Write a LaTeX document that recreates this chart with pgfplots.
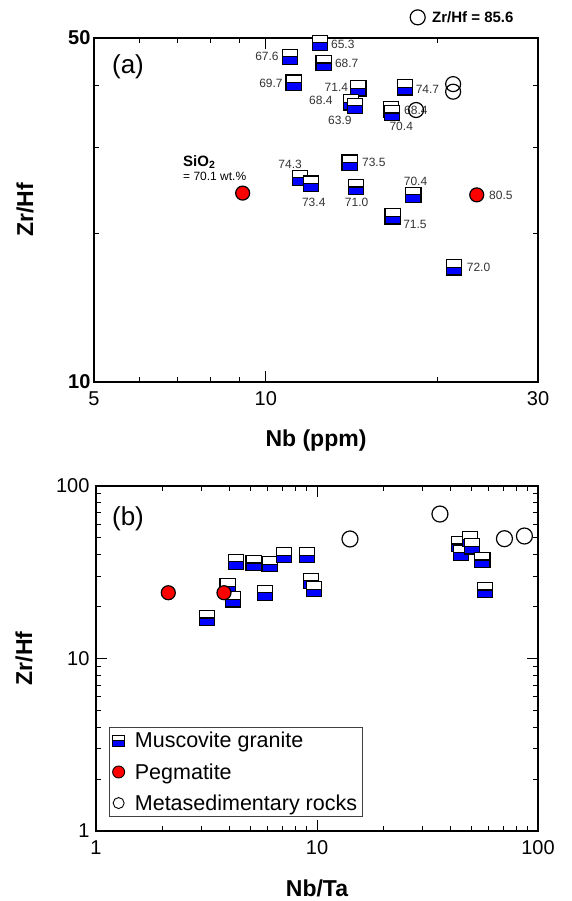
\documentclass[border=0pt]{standalone}
\usepackage{fontspec}
\setmainfont{Liberation Sans}
\usepackage{pgfplots}
\pgfplotsset{compat=1.18}
\definecolor{mblue}{RGB}{0,0,255}
\definecolor{mred}{RGB}{255,0,0}
\pgfdeclareplotmark{halfsq}{%
  \pgfpathrectangle{\pgfqpoint{-\pgfplotmarksize}{-\pgfplotmarksize}}{\pgfqpoint{2\pgfplotmarksize}{2\pgfplotmarksize}}%
  \pgfsetfillcolor{white}\pgfusepath{fill}%
  \pgfpathrectangle{\pgfqpoint{-\pgfplotmarksize}{-\pgfplotmarksize}}{\pgfqpoint{2\pgfplotmarksize}{\pgfplotmarksize}}%
  \pgfsetfillcolor{mblue}\pgfusepath{fill,stroke}%
  \pgfpathrectangle{\pgfqpoint{-\pgfplotmarksize}{-\pgfplotmarksize}}{\pgfqpoint{2\pgfplotmarksize}{2\pgfplotmarksize}}%
  \pgfusepath{stroke}%
}
\pgfplotsset{
  myaxis/.style={
    scale only axis, clip=false,
    axis line style={line width=1.2pt},
    tick style={black, line width=1pt},
    tick align=inside,
    major tick length=11pt, minor tick length=5pt,
    /pgf/number format/assume math mode=true,
    ticklabel style={font=\fontsize{20}{24}\selectfont},
    xticklabel style={yshift=-6pt},
  },
  granite/.style={only marks, mark=halfsq, mark size=7.6pt, mark options={line width=1.2pt, draw=black}},
  pegm/.style={only marks, mark=*, mark size=7pt, mark options={line width=1.2pt, draw=black, fill=mred}},
  meta/.style={only marks, mark=o, mark size=7.5pt, mark options={line width=1.2pt, draw=black, fill=none}},
}
\tikzset{lbl/.style={font=\fontsize{12}{14}\selectfont, text=black!80, inner sep=0pt}}
\begin{document}
\begin{tikzpicture}
\useasboundingbox (0pt,0pt) rectangle (571pt,-901pt);
% ---------------- panel (a)
\begin{axis}[myaxis,
  at={(94pt,-382pt)}, anchor=south west,
  width=444pt, height=344pt,
  xmode=log, ymode=log, xmin=5, xmax=30, ymin=10, ymax=50,
  xtick={5,10,30}, xticklabels={5,10,30},
  minor xtick={6,7,8,9,20},
  ytick={10,50}, yticklabels={\textbf{10},\textbf{50}},
  minor ytick={20,30,40},
  xlabel={Nb (ppm)}, ylabel={Zr/Hf},
  every axis x label/.style={at={(axis description cs:0.5,-0.1715)}, anchor=center, font=\fontsize{23}{27}\selectfont\bfseries},
  every axis y label/.style={at={(axis description cs:-0.1554,0.5)}, anchor=center, rotate=90, font=\fontsize{23}{27}\selectfont\bfseries},
  legend style={at={(0.7117,1.060)}, anchor=west, draw=none, fill=none, font=\fontsize{15}{18}\selectfont\bfseries, inner sep=0pt,
    /tikz/every odd column/.append style={column sep=5pt}},
]
\addlegendimage{meta}
\addlegendentry{Zr/Hf = 85.6}
\addplot[granite] coordinates {
(12.46,48.9) (11.04,45.8) (12.63,44.5) (11.19,40.6) (14.53,39.5) (14.11,37.0) (14.32,36.4)
(17.56,39.7) (16.58,35.8) (16.64,35.2) (14.03,27.9) (11.48,26.0) (12.0,25.3) (14.38,24.9)
(18.14,24.0) (16.69,21.7) (21.38,17.1)};
\addplot[pegm] coordinates {(9.11,24.2) (23.43,24.0)};
\addplot[meta] coordinates {(21.3,40.3) (21.3,38.9) (18.34,35.7)};
\node[lbl, xshift=22.5pt, yshift=-1.6pt] at (axis cs:12.46,48.9) {65.3};
\node[lbl, xshift=-23.3pt, yshift=0.5pt] at (axis cs:11.04,45.8) {67.6};
\node[lbl, xshift=23.1pt] at (axis cs:12.63,44.5) {68.7};
\node[lbl, xshift=-22.7pt, yshift=-0.5pt] at (axis cs:11.19,40.6) {69.7};
\node[lbl, xshift=-22pt, yshift=0.8pt] at (axis cs:14.53,39.5) {71.4};
\node[lbl, xshift=-30.2pt, yshift=1.8pt] at (axis cs:14.11,37.0) {68.4};
\node[lbl, xshift=-14.9pt, yshift=-14pt] at (axis cs:14.32,36.4) {63.9};
\node[lbl, xshift=22.2pt, yshift=-1.9pt] at (axis cs:17.56,39.7) {74.7};
\node[lbl, xshift=24.8pt, yshift=-0.7pt] at (axis cs:16.58,35.8) {68.4};
\node[lbl, xshift=9.3pt, yshift=-12.9pt] at (axis cs:16.64,35.2) {70.4};
\node[lbl, xshift=24.1pt] at (axis cs:14.03,27.9) {73.5};
\node[lbl, xshift=-9.8pt, yshift=13.2pt] at (axis cs:11.48,26.0) {74.3};
\node[lbl, xshift=2.8pt, yshift=-18.4pt] at (axis cs:12.0,25.3) {73.4};
\node[lbl, xshift=0.8pt, yshift=-15.4pt] at (axis cs:14.38,24.9) {71.0};
\node[lbl, xshift=2.2pt, yshift=13.3pt] at (axis cs:18.14,24.0) {70.4};
\node[lbl, xshift=22.3pt, yshift=-8.2pt] at (axis cs:16.69,21.7) {71.5};
\node[lbl, xshift=24.5pt] at (axis cs:21.38,17.1) {72.0};
\node[lbl, xshift=24.1pt] at (axis cs:23.43,24.0) {80.5};
\node[anchor=west, inner sep=0pt, font=\fontsize{15}{18}\selectfont\bfseries, xshift=-59.7pt, yshift=31.3pt] at (axis cs:9.11,24.2) {SiO\textsubscript{2}};
\node[anchor=west, inner sep=0pt, font=\fontsize{12}{14}\selectfont, xshift=-59.7pt, yshift=16.3pt] at (axis cs:9.11,24.2) {= 70.1 wt.\%};
\node[font=\fontsize{26}{30}\selectfont] at (axis description cs:0.0766,0.9157) {(a)};
\end{axis}
% ---------------- panel (b)
\begin{axis}[myaxis,
  at={(96pt,-831pt)}, anchor=south west,
  width=442pt, height=345pt,
  xmode=log, ymode=log, xmin=1, xmax=100, ymin=1, ymax=100,
  xtick={1,10,100}, xticklabels={1,10,100},
  minor xtick={2,3,4,5,6,7,8,9,20,30,40,50,60,70,80,90},
  ytick={1,10,100}, yticklabels={1,10,100},
  minor ytick={2,3,4,5,6,7,8,9,20,30,40,50,60,70,80,90},
  yticklabel style={xshift=-3pt},
  xlabel={Nb/Ta}, ylabel={Zr/Hf},
  every axis x label/.style={at={(axis description cs:0.5,-0.166)}, anchor=center, font=\fontsize{23}{27}\selectfont\bfseries},
  every axis y label/.style={at={(axis description cs:-0.1629,0.5)}, anchor=center, rotate=90, font=\fontsize{23}{27}\selectfont\bfseries},
  legend style={at={(0.0294,0.0406)}, anchor=south west, draw=black!75, line width=0.8pt,
    font=\fontsize{21.5}{25}\selectfont, row sep=10pt, inner xsep=3pt, inner ysep=3pt,
    /tikz/every odd column/.append style={column sep=8pt}},
  legend cell align=left,
]
\addplot[granite, legend image post style={mark size=5.8pt, mark options={line width=0.9pt, draw=black}}] coordinates {
(3.178,17.17) (3.944,26.2) (4.169,22.04) (4.313,36.4) (5.171,35.8) (6.109,35.2) (5.817,24.06)
(7.091,39.7) (9.01,39.7) (9.395,28.25) (9.662,25.2) (43.9,46.1) (44.8,41.1) (49.2,49.1)
(50.4,44.7) (56.0,37.2) (57.6,24.95)};
\addlegendentry{Muscovite granite}
\addplot[pegm, legend image post style={mark size=6pt, mark options={line width=0.9pt, draw=black, fill=mred}}] coordinates {(2.124,24.06) (3.795,24.06)};
\addlegendentry{Pegmatite}
\addplot[meta, mark size=8pt, legend image post style={mark size=5.5pt, mark options={line width=0.9pt, draw=black, fill=none}}] coordinates {(14.1,49.3) (36.0,68.8) (70.5,49.5) (86.8,51.3)};
\addlegendentry{Metasedimentary rocks}
\node[font=\fontsize{26}{30}\selectfont] at (axis description cs:0.0724,0.9043) {(b)};
\end{axis}
\end{tikzpicture}
\end{document}
